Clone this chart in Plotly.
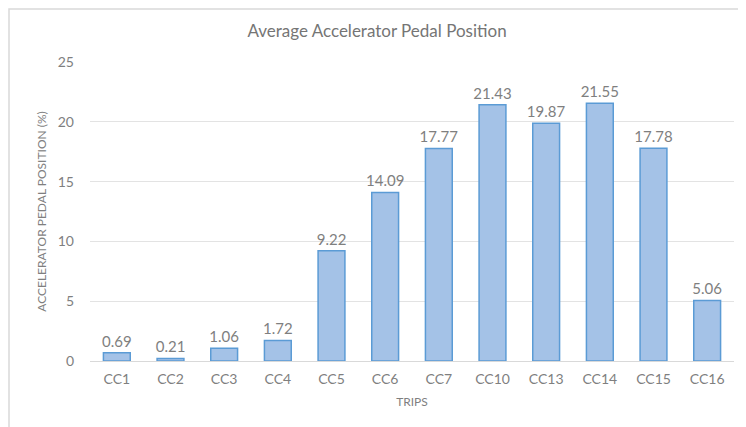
import plotly.graph_objects as go

trips = ['CC1', 'CC2', 'CC3', 'CC4', 'CC5', 'CC6', 'CC7', 'CC10', 'CC13', 'CC14', 'CC15', 'CC16']
pedal_position = [0.69, 0.21, 1.06, 1.72, 9.22, 14.09, 17.77, 21.43, 19.87, 21.55, 17.78, 5.06]

# the page body adds an 8px offset, so the figure is sized to fit the rest
W, H = 738, 419
L, R, T, B = 82, 12, 54, 66
pw, ph = W - L - R, H - T - B

fig = go.Figure()
fig.add_trace(go.Bar(
    x=trips,
    y=pedal_position,
    text=[f'{v:.2f}' for v in pedal_position],
    textposition='outside',
    constraintext='none',
    textfont=dict(size=15, color='#7f7f7f'),
    cliponaxis=False,
    marker=dict(color='#a4c2e7', line=dict(color='#5b9bd5', width=1.5)),
))

# chart border (bottom and right edges fall outside the picture)
fig.add_shape(type='rect', xref='paper', yref='paper',
              x0=-(L - 1) / pw, x1=(W + 10 - L) / pw,
              y0=-(B + 10) / ph, y1=1 + (T - 1) / ph,
              line=dict(color='#d9d9d9', width=1.5), layer='below')

fig.update_layout(
    width=W, height=H,
    margin=dict(l=L, r=R, t=T, b=B),
    paper_bgcolor='white', plot_bgcolor='white',
    font=dict(family='Lato', color='#7f7f7f'),
    title=dict(text='Average Accelerator Pedal Position', x=0.5, xanchor='center',
               y=1 - 23 / H, yanchor='middle', font=dict(size=17, color='#757575')),
    bargap=0.5,
    showlegend=False,
)
fig.update_xaxes(
    title=dict(text='TRIPS', font=dict(size=12, color='#7f7f7f'), standoff=11),
    tickfont=dict(size=14, color='#7f7f7f'),
    ticklabelstandoff=5,
    showline=True, linecolor='#d9d9d9', linewidth=1,
    ticks='',
)
fig.update_yaxes(
    range=[0, 25], dtick=5,
    title=dict(text='ACCELERATOR PEDAL POSITION (%)', font=dict(size=12, color='#7f7f7f'), standoff=8),
    tickfont=dict(size=14, color='#7f7f7f'),
    ticklabelstandoff=15,
    gridcolor='#e3e3e3', gridwidth=1, zeroline=False,
    ticks='',
)

fig.write_html('out.html')
